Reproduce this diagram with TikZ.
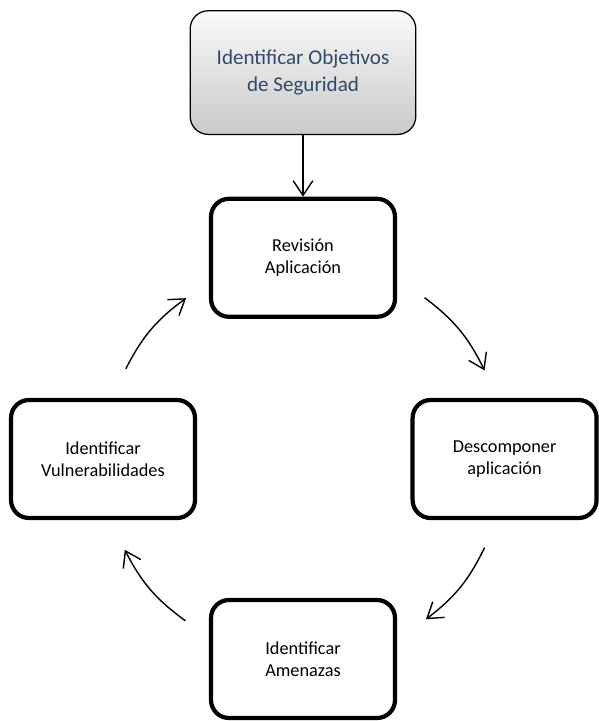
\documentclass[tikz,border=0pt]{standalone}
\usepackage{fontspec}
\setmainfont{Carlito}
\usetikzlibrary{arrows.meta}
\definecolor{titleblue}{RGB}{48,74,110}

\begin{document}
\begin{tikzpicture}[
                    stage/.style={draw, line width=3pt, rounded corners=0.45cm, minimum width=4.6cm, minimum height=2.95cm, align=center, font=\fontsize{13}{15.6}\selectfont},
                    goal/.style={draw, line width=0.9pt, rounded corners=0.45cm, minimum width=5.64cm, minimum height=3.09cm, align=center, top color=gray!4, bottom color=gray!42, text=titleblue, font=\fontsize{15}{19}\selectfont},
                    flow/.style={-{Straight Barb[length=10.5pt,width=14pt]}, line width=1pt}
                ]
                    % Frame
                    \useasboundingbox (-7.575,-6.55) rectangle (7.375,11.475);
                    % Top box
                    \node[goal] (obj) at (0,9.66) {Identificar Objetivos\\de Seguridad};
                    % Cycle boxes
                    \node[stage] (rev) at (0,5.03) {Revisión\\Aplicación};
                    \node[stage] (desc) at (5.04,0) {Descomponer\\aplicación};
                    \node[stage] (amen) at (0,-5) {Identificar\\Amenazas};
                    \node[stage] (vuln) at (-5,0) {Identificar\\Vulnerabilidades};
                    % Arc ends
                    \coordinate (r1) at (53:5.05);
                    \coordinate (d1) at (26:5.05);
                    \coordinate (d2) at (-26:5.05);
                    \coordinate (m1) at (-52.5:5.05);
                    \coordinate (m2) at (-126:5);
                    \coordinate (v1) at (-153:5);
                    \coordinate (v2) at (153:4.97);
                    \coordinate (r2) at (126:4.97);
                    % Arrows
                    \draw[flow] (obj) -- (rev);
                    \draw[flow] (r1) to[bend left=13.5] (d1);
                    \draw[flow] (d2) to[bend left=13.5] (m1);
                    \draw[flow] (m2) to[bend left=13.5] (v1);
                    \draw[flow] (v2) to[bend left=13.5] (r2);
                \end{tikzpicture}
\end{document}
